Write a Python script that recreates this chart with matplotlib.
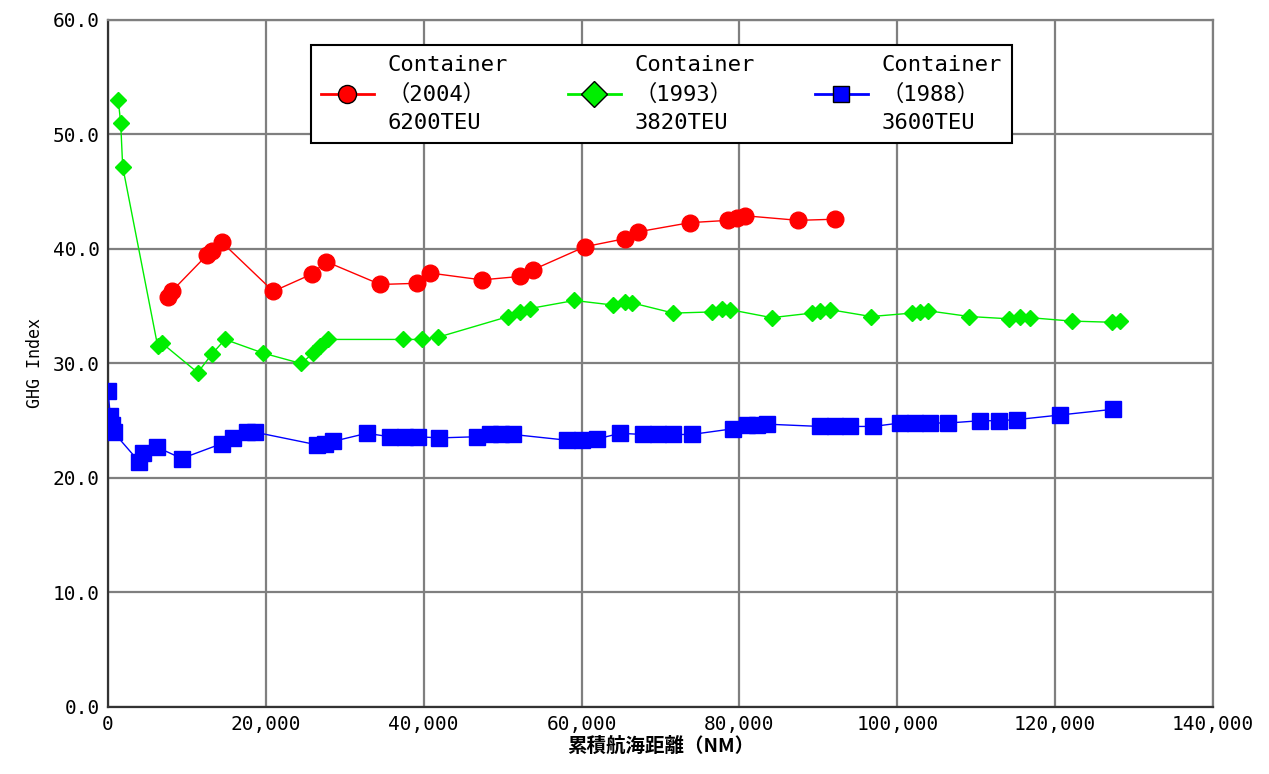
"""GHG index vs cumulative sailing distance for three container ships."""
import matplotlib
matplotlib.use("Agg")
import matplotlib.pyplot as plt
from matplotlib.lines import Line2D
from matplotlib.ticker import FuncFormatter, MultipleLocator

MONO = ["DejaVu Sans Mono", "Noto Sans CJK JP"]
JP = ["Noto Sans CJK JP", "DejaVu Sans"]

# values
red_x = [7640, 8070, 12580, 13140, 14410, 20940, 25810, 27620, 34500, 39110, 40800,
         47350, 52200, 53890, 60440, 65500, 67190, 73740, 78590, 79700, 80710, 87460, 92150]
red_y = [35.8, 36.3, 39.5, 39.8, 40.6, 36.3, 37.8, 38.9, 36.9, 37.0, 37.9,
         37.3, 37.6, 38.2, 40.2, 40.9, 41.5, 42.3, 42.5, 42.7, 42.9, 42.5, 42.6]

green_x = [1300, 1610, 1860, 6300, 6800, 11370, 13140, 14820, 19680, 24450, 26010,
           26860, 27910, 37410, 39740, 41850, 50720, 52200, 53470, 59080, 64020,
           65500, 66350, 71620, 76490, 77750, 78800, 84090, 89160, 90210, 91480,
           96670, 101830, 102880, 103930, 109130, 114200, 115550, 116820, 122100,
           127170, 128220]
green_y = [53.0, 51.0, 47.2, 31.5, 31.8, 29.2, 30.8, 32.1, 30.9, 30.0, 30.9,
           31.5, 32.1, 32.1, 32.1, 32.3, 34.1, 34.5, 34.8, 35.5, 35.1,
           35.4, 35.3, 34.4, 34.5, 34.8, 34.7, 34.0, 34.4, 34.6, 34.7,
           34.1, 34.4, 34.5, 34.6, 34.1, 33.9, 34.1, 34.0, 33.7,
           33.6, 33.7]

blue_x = [0, 300, 500, 700, 3970, 4470, 6170, 9340, 14410, 15880, 17570, 18620,
          26440, 27500, 28550, 32780, 35730, 37630, 39280, 41970, 46710, 48400,
          49790, 51310, 58120, 60020, 61920, 64870, 67790, 69690, 71590, 73950,
          79230, 80920, 82190, 83450, 90210, 92110, 94010, 96960, 100350, 102250,
          104150, 106470, 110480, 112820, 115170, 120620, 127370]
blue_y = [27.6, 25.4, 24.6, 24.0, 21.4, 22.2, 22.7, 21.7, 23.0, 23.5, 24.0, 24.0,
          22.9, 23.0, 23.2, 23.9, 23.6, 23.6, 23.6, 23.5, 23.6, 23.8,
          23.8, 23.8, 23.3, 23.3, 23.4, 23.9, 23.8, 23.8, 23.8, 23.8,
          24.3, 24.6, 24.6, 24.7, 24.5, 24.5, 24.5, 24.5, 24.8, 24.8,
          24.8, 24.8, 25.0, 25.0, 25.1, 25.5, 26.0]

labels = ["Container\n\uff082004\uff09\n6200TEU",
          "Container\n\uff081993\uff09\n3820TEU",
          "Container\n\uff081988\uff09\n3600TEU"]

RED, GREEN, BLUE = "#ff0000", "#00ee00", "#0000ff"

fig = plt.figure(figsize=(12.69, 7.74), dpi=100)
ax = fig.add_axes([0.0851, 0.0866, 0.8708, 0.8876])

ax.plot(red_x, red_y, color=RED, lw=1, marker="o", ms=12, mec=RED, zorder=3)
ax.plot(green_x, green_y, color=GREEN, lw=1, marker="D", ms=8.5, mec=GREEN, zorder=3)
ax.plot(blue_x, blue_y, color=BLUE, lw=1, marker="s", ms=11, mec=BLUE, zorder=3)

ax.set_xlim(0, 140000)
ax.set_ylim(0, 60)
ax.xaxis.set_major_locator(MultipleLocator(20000))
ax.yaxis.set_major_locator(MultipleLocator(10))
ax.xaxis.set_major_formatter(FuncFormatter(lambda v, p: f"{int(v):,}"))
ax.yaxis.set_major_formatter(FuncFormatter(lambda v, p: f"{v:.1f}"))
ax.grid(True, color="#7f7f7f", lw=1.6)
ax.set_axisbelow(True)
for s in ax.spines.values():
    s.set_color("#7f7f7f")
    s.set_linewidth(1.6)
ax.spines["left"].set_color("#333333")
ax.spines["bottom"].set_color("#333333")
ax.tick_params(length=0, pad=6)
for t in ax.get_xticklabels() + ax.get_yticklabels():
    t.set_fontfamily(MONO)
    t.set_fontsize(14)

ax.set_ylabel("GHG Index", family=MONO, fontsize=12, labelpad=6)
ax.set_xlabel("累積航海距離（NM）", family=JP, fontsize=14, fontweight="bold", labelpad=2)

handles = [Line2D([], [], color=RED, lw=2, marker="o", ms=13, mec="black"),
           Line2D([], [], color=GREEN, lw=2, marker="D", ms=13, mec="black"),
           Line2D([], [], color=BLUE, lw=2, marker="s", ms=12, mec="black")]
leg = ax.legend(handles, labels, ncol=3, loc="upper center",
                bbox_to_anchor=(0.5005, 0.9636), borderaxespad=0,
                prop={"family": MONO, "size": 16},
                frameon=True, fancybox=False, framealpha=1, edgecolor="black",
                handlelength=2.4, handletextpad=0.6, columnspacing=2.7,
                borderpad=0.45, labelspacing=0.2)
leg.get_frame().set_linewidth(1.5)
for t in leg.get_texts():
    t.set_linespacing(1.5)

fig.savefig("out.png")
